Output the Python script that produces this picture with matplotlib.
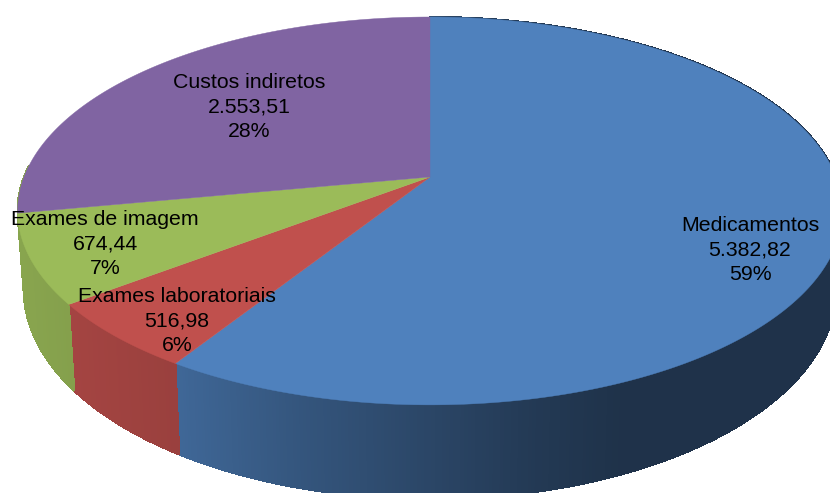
import matplotlib

matplotlib.use("Agg")
import matplotlib.pyplot as plt
import numpy as np
from matplotlib.patches import Polygon

categories = ["Medicamentos", "Exames laboratoriais", "Exames de imagem", "Custos indiretos"]
values = [5382.82, 516.98, 674.44, 2553.51]
value_labels = ["5.382,82", "516,98", "674,44", "2.553,51"]
percent_labels = ["59%", "6%", "7%", "28%"]
colors = ["#4f81bd", "#c0504d", "#9bbb59", "#8064a2"]
label_x = [750, 177, 105, 249]
label_y = [250, 321, 244, 107]

# perspective of the pie, in pixels
CX, CY = 430, 177
RX, RY = 406, 188
TILT = 0.175
DEPTH = 76
SIDE_X = 0.985
SIDE_Y = 1.08

# side shading as a function of x
SHADE_X = [20, 175, 300, 530, 620]
SHADE_F = [0.88, 0.80, 0.66, 0.45, 0.39]


def project(theta, scale_x=1.0, scale_y=1.0, shift=0.0):
    # theta clockwise from the top of the pie
    u = np.sin(theta)
    v = np.cos(theta)
    w = 1 + TILT * v
    x = CX + scale_x * RX * u / w
    y = CY + shift - scale_y * RY * v / w
    return x, y


def shade(color, x):
    rgb = np.array(matplotlib.colors.to_rgb(color))
    return tuple(rgb * np.interp(x, SHADE_X, SHADE_F))


fig = plt.figure(figsize=(8.3, 4.93), dpi=100)
ax = fig.add_axes([0, 0, 1, 1])
ax.set_xlim(0, 830)
ax.set_ylim(493, 0)
ax.axis("off")

fractions = np.array(values) / np.sum(values)
edges = np.concatenate([[0], np.cumsum(fractions)]) * 2 * np.pi

# sides first, tops cover whatever is behind
# the back wedge shows no side, green runs on to the silhouette instead
for i, color in enumerate(colors[:3]):
    end = edges[i + 1] + (0.25 if i == 2 else 0)
    thetas = np.linspace(edges[i], end, 500)
    top_x, top_y = project(thetas)
    low_x, low_y = project(thetas, SIDE_X, SIDE_Y, DEPTH)
    for j in range(len(thetas) - 1):
        quad = [
            (top_x[j], top_y[j]),
            (top_x[j + 1], top_y[j + 1]),
            (low_x[j + 1], low_y[j + 1]),
            (low_x[j], low_y[j]),
        ]
        c = shade(color, (top_x[j] + top_x[j + 1]) / 2)
        ax.add_patch(
            Polygon(quad, closed=True, facecolor=c, edgecolor=c, linewidth=0.8, antialiased=False)
        )

for i, color in enumerate(colors):
    thetas = np.linspace(edges[i], edges[i + 1], 300)
    x, y = project(thetas)
    points = np.column_stack([np.r_[CX, x], np.r_[CY, y]])
    ax.add_patch(Polygon(points, closed=True, facecolor=color, edgecolor=color, linewidth=0.3))

for i, name in enumerate(categories):
    ax.text(
        label_x[i],
        label_y[i],
        f"{name}\n{value_labels[i]}\n{percent_labels[i]}",
        ha="center",
        va="center",
        ma="center",
        fontsize=15.3,
        family="Liberation Sans",
        color="black",
        linespacing=1.36,
    )

fig.savefig("out.png", dpi=100)
